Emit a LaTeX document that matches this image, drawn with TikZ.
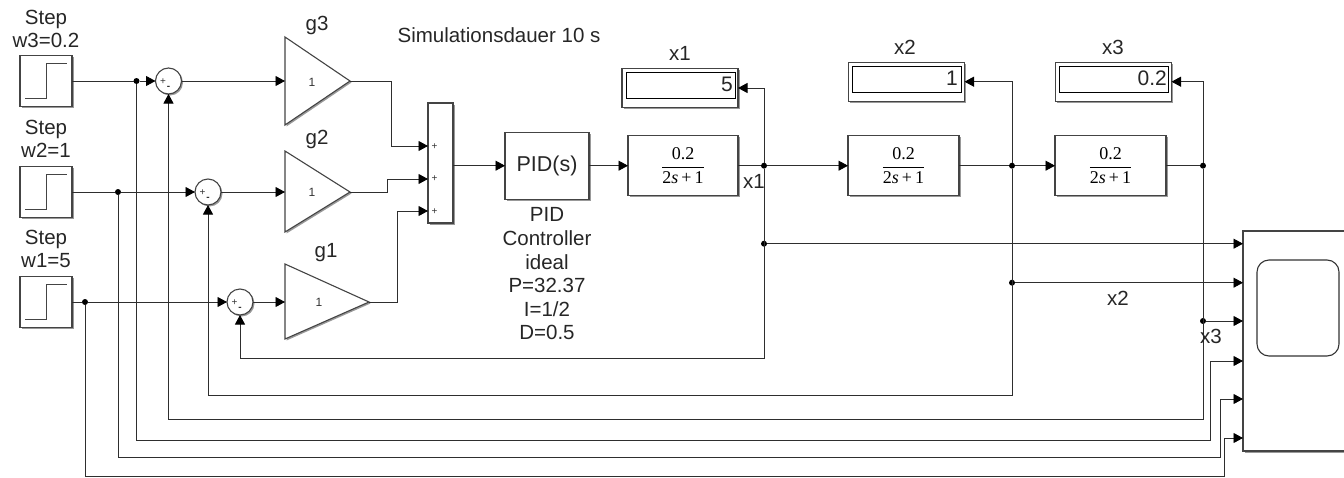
\documentclass[tikz,border=0pt]{standalone}
\usepackage{fontspec}
\setmainfont{Liberation Sans}
\newfontfamily\serfont{Liberation Serif}
\usetikzlibrary{arrows.meta,shadows}
\definecolor{wirec}{HTML}{2E2E2E}
\definecolor{blockc}{HTML}{444444}
\newcommand{\tfexpr}{$\displaystyle\frac{\hbox{\serfont 0.2}}{\hbox{\serfont 2{\itshape s}\,+\,1}}$}
\tikzset{
  shad/.style={drop shadow={shadow xshift=1.5pt,shadow yshift=-1.5pt,fill=black,opacity=.4}},
  block/.style={draw=blockc,line width=1.1pt,fill=white,shad,inner sep=0pt,outer sep=0pt},
  wire/.style={draw=wirec,line width=.85pt},
  arr/.style={wire,-{Triangle[length=9.5pt,width=10pt,color=black,fill=black]}},
  dot/.style={circle,fill=black,inner sep=0pt,minimum size=6pt,outer sep=0pt},
  lab/.style={font=\fontsize{20.5}{23.6}\selectfont,text=black!85,inner sep=0pt,align=center},
  tiny/.style={font=\fontsize{10}{10}\selectfont,text=black!80,inner sep=0pt},
  gtext/.style={font=\fontsize{12}{12}\selectfont,text=black!80,inner sep=0pt},
  stepblk/.style={block,minimum width=52pt,minimum height=51pt},
  sumblk/.style={block,circle,minimum size=26pt},
  tfblk/.style={block,minimum height=60pt,font=\fontsize{18}{20}\selectfont},
  dispblk/.style={block,minimum width=116pt,minimum height=39pt},
  inner/.style={draw=black,line width=.8pt,fill=white,inner sep=0pt,outer sep=0pt,minimum width=109pt,minimum height=26pt},
  steppath/.style={draw=blockc,line width=.9pt},
}
\begin{document}
\begin{tikzpicture}[x=1pt,y=-1pt]
\useasboundingbox (0,0) rectangle (1344,477);
\clip (0,0) rectangle (1344,477);
% step sources
\node[stepblk] (st3) at (46,81) {};
\node[stepblk] (st2) at (46,192) {};
\node[stepblk] (st1) at (46,302) {};
\foreach \n in {st3,st2,st1}{
  \draw[steppath] ([shift={(-21,17)}]\n.center) -- ++(21,0) -- ++(0,-35) -- ++(21,0);
}
\node[lab] (lst3) at (46,29) {Step\\w3=0.2};
\node[lab] (lst2) at (46,139) {Step\\w2=1};
\node[lab] (lst1) at (46,249) {Step\\w1=5};
% sums
\node[sumblk] (s1) at (168.5,81) {};
\node[sumblk] (s2) at (208,192) {};
\node[sumblk] (s3) at (240,302) {};
\foreach \n in {s1,s2,s3}{
  \node[tiny] at ([shift={(-5.5,0.5)}]\n.center) {+};
  \node[tiny] at ([shift={(0,7)}]\n.center) {\textbf{-}};
}
% gains
\draw[block] (285,37) -- (350,81) -- (285,125) -- cycle;
\draw[block] (285,151) -- (350,192) -- (285,232) -- cycle;
\draw[block] (285,264) -- (369,302) -- (285,339) -- cycle;
\coordinate (g3i) at (285,81); \coordinate (g3o) at (350,81);
\coordinate (g2i) at (285,192); \coordinate (g2o) at (350,192);
\coordinate (g1i) at (285,302); \coordinate (g1o) at (369,302);
\node[gtext] (g3t) at (312,82) {1};
\node[gtext] (g2t) at (312,192) {1};
\node[gtext] (g1t) at (319,302) {1};
\node[lab] (lg3) at (317,25) {g3};
\node[lab] (lg2) at (317,139) {g2};
\node[lab] (lg1) at (326,253) {g1};
\node[lab] (sim) at (499,35) {Simulationsdauer 10 s};
% add block
\node[block,minimum width=25pt,minimum height=120pt] (add) at (440.5,163) {};
\coordinate (a1) at (428,146); \coordinate (a2) at (428,179); \coordinate (a3) at (428,211);
\node[tiny] at (434.5,146.5) {+};
\node[tiny] at (434.5,179) {+};
\node[tiny] at (434.5,211.5) {+};
% PID and transfer functions
\node[block,minimum width=84pt,minimum height=67pt,font=\fontsize{21.5}{23}\selectfont,text=black!85] (pid) at (547,165.7) {PID(s)};
\node[lab,anchor=north] (lpid) at (547,207.5) {PID\\Controller\\ideal\\P=32.37\\I=1/2\\D=0.5};
\node[tfblk,minimum width=110pt] (tf1) at (683,165.7) {\tfexpr};
\node[tfblk,minimum width=111pt] (tf2) at (903.5,165.7) {\tfexpr};
\node[tfblk,minimum width=111pt] (tf3) at (1110.5,165.7) {\tfexpr};
% displays
\node[dispblk] (d1) at (680,88) {};
\node[dispblk] (d2) at (906.5,81.7) {};
\node[dispblk] (d3) at (1113.5,81.7) {};
\node[inner] (i1) at (680.5,85) {};
\node[inner] (i2) at (906.5,79) {};
\node[inner] (i3) at (1113.5,79) {};
\node[lab,anchor=east,font=\fontsize{21}{22}\selectfont] (v1) at (733,84) {5};
\node[lab,anchor=east,font=\fontsize{21}{22}\selectfont] (v2) at (958,78.5) {1};
\node[lab,anchor=east,font=\fontsize{21}{22}\selectfont] (v3) at (1167,78.5) {0.2};
\node[lab] (ld1) at (680,53) {x1};
\node[lab] (ld2) at (905,47) {x2};
\node[lab] (ld3) at (1113,47) {x3};
% scope
\node[block,minimum width=120pt,minimum height=220pt] (sc) at (1303,341) {};
\draw[draw=black!80,line width=1.1pt,rounded corners=12pt] (1257,260) rectangle (1339,356);
\coordinate (p1) at (1243,243.7); \coordinate (p2) at (1243,282.7); \coordinate (p3) at (1243,321);
\coordinate (p4) at (1243,361); \coordinate (p5) at (1243,399); \coordinate (p6) at (1243,438);
% junctions
\node[dot] (j3) at (136.5,81) {};
\node[dot] (j2) at (118,192) {};
\node[dot] (j1) at (85,302) {};
\node[dot] (x1a) at (764,165.7) {};
\node[dot] (x1b) at (764,243.7) {};
\node[dot] (x2a) at (1012,165.7) {};
\node[dot] (x2b) at (1012,282.7) {};
\node[dot] (x3a) at (1203,165.7) {};
\node[dot] (x3b) at (1203,321) {};
% bends
\coordinate (c1) at (764,358);
\coordinate (c2) at (1012,395);
\coordinate (c3) at (1203,419);
\coordinate (c4) at (1210.5,440);
\coordinate (c5) at (1220,457);
\coordinate (c6) at (1224,476);
\coordinate (g3b) at (391.5,81);
\coordinate (g2b) at (387,192);
\coordinate (g1b) at (397,302);
% forward paths
\draw[wire] (st3) -- (j3);
\draw[arr] (j3) -- (s1);
\draw[arr] (s1) -- (g3i);
\draw[wire] (st2) -- (j2);
\draw[arr] (j2) -- (s2);
\draw[arr] (s2) -- (g2i);
\draw[wire] (st1) -- (j1);
\draw[arr] (j1) -- (s3);
\draw[arr] (s3) -- (g1i);
\draw[arr] (g3o) -- (g3b) |- (a1);
\draw[arr] (g2o) -- (g2b) |- (a2);
\draw[arr] (g1o) -- (g1b) |- (a3);
\draw[arr] (add.east |- pid) -- (pid);
\draw[arr] (pid) -- (tf1);
\draw[wire] (tf1) -- (x1a);
\draw[arr] (x1a) -- (tf2);
\draw[wire] (tf2) -- (x2a);
\draw[arr] (x2a) -- (tf3);
\draw[wire] (tf3) -- (x3a);
% displays
\draw[arr] (x1a) |- (d1);
\draw[arr] (x2a) |- (d2);
\draw[arr] (x3a) |- (d3);
% scope inputs
\draw[arr] (x1b) -- (p1);
\draw[arr] (x2b) -- (p2);
\draw[arr] (x3b) -- (p3);
\draw[arr] (j3) |- (c4) |- (p4);
\draw[arr] (j2) |- (c5) |- (p5);
\draw[arr] (j1) |- (c6) |- (p6);
% feedback
\draw[arr] (x1a) -- (c1) -| (s3);
\draw[arr] (x2a) -- (c2) -| (s2);
\draw[arr] (x3a) -- (c3) -| (s1);
% signal labels
\node[lab] (lx1) at (754,181) {x1};
\node[lab] (lx2) at (1118,298) {x2};
\node[lab] (lx3) at (1211,336) {x3};
\end{tikzpicture}
\end{document}
